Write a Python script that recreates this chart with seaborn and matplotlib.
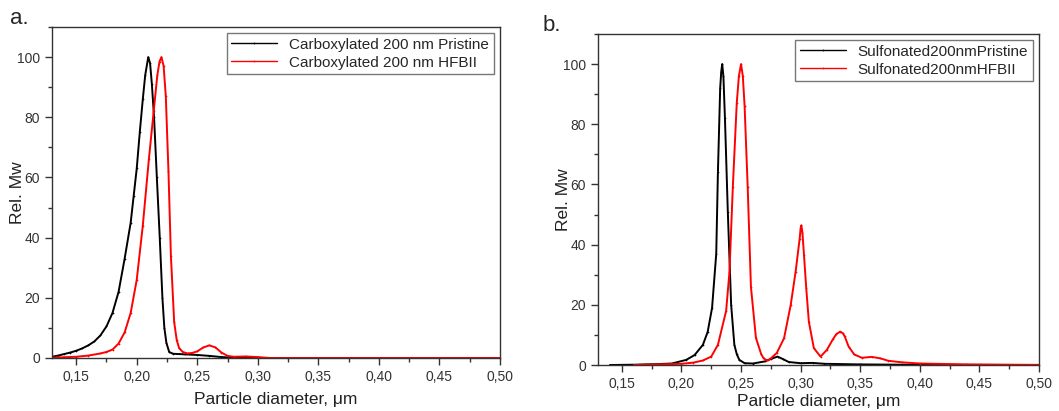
import matplotlib
matplotlib.use("Agg")
import matplotlib.pyplot as plt
from matplotlib.ticker import MultipleLocator, FuncFormatter
import seaborn as sns
import pandas as pd

# ---- data ----
carb_pristine_x = [0.130, 0.135, 0.140, 0.145, 0.150, 0.155, 0.160, 0.165, 0.170, 0.175,
                   0.180, 0.185, 0.190, 0.195, 0.1975, 0.200, 0.2025, 0.205, 0.207, 0.2095,
                   0.211, 0.2125, 0.2143, 0.2166, 0.219, 0.2212, 0.2228, 0.2245, 0.2268, 0.230,
                   0.240, 0.250, 0.260, 0.270, 0.280, 0.300, 0.500]
carb_pristine_y = [0.4, 0.8, 1.3, 1.8, 2.4, 3.2, 4.2, 5.5, 7.5, 10.5,
                   15, 22, 33, 45, 54, 63, 75, 86, 94, 100,
                   98, 91, 80, 60, 40, 20, 10, 5, 2, 1.4,
                   1.2, 1.0, 0.7, 0.3, 0.1, 0.0, 0.0]

carb_hfbii_x = [0.130, 0.150, 0.160, 0.170, 0.175, 0.180, 0.185, 0.190, 0.195, 0.200,
                0.205, 0.210, 0.214, 0.217, 0.2188, 0.2204, 0.2222, 0.224, 0.2262, 0.2282,
                0.2309, 0.233, 0.235, 0.238, 0.242, 0.246, 0.250, 0.255, 0.260, 0.265,
                0.270, 0.275, 0.280, 0.290, 0.300, 0.310, 0.500]
carb_hfbii_y = [0.1, 0.4, 0.8, 1.5, 2.0, 2.8, 4.8, 8.5, 15, 26,
                44, 66, 82, 94, 98.5, 100, 97, 87, 62, 34,
                12, 6, 3.3, 2.0, 1.5, 1.7, 2.2, 3.5, 4.2, 3.5,
                1.8, 0.7, 0.4, 0.5, 0.3, 0.0, 0.0]

sulf_pristine_x = [0.140, 0.160, 0.180, 0.192, 0.204, 0.211, 0.218, 0.222, 0.2257, 0.2292,
                   0.2306, 0.2325, 0.2334, 0.2342, 0.2352, 0.2365, 0.2389, 0.2417, 0.2444, 0.2465,
                   0.2486, 0.253, 0.260, 0.270, 0.275, 0.2806, 0.285, 0.290, 0.300, 0.310,
                   0.320, 0.350, 0.400, 0.500]
sulf_pristine_y = [0.0, 0.1, 0.3, 0.5, 1.7, 3.3, 6.7, 11, 19, 37,
                   64, 92, 97.5, 100, 96, 82, 51, 20, 6.7, 3.5,
                   1.7, 0.6, 0.5, 1.2, 2.0, 2.8, 2.0, 1.0, 0.6, 0.7,
                   0.4, 0.2, 0.05, 0.0]

sulf_hfbii_x = [0.160, 0.180, 0.200, 0.210, 0.218, 0.225, 0.2306, 0.2375, 0.2403, 0.2431,
                0.2464, 0.2482, 0.2500, 0.2515, 0.2530, 0.2556, 0.2583, 0.2625, 0.2670, 0.269,
                0.2708, 0.273, 0.2750, 0.2800, 0.2861, 0.2917, 0.2958, 0.2992, 0.3000, 0.3006,
                0.3015, 0.3028, 0.3047, 0.3069, 0.3111, 0.3167, 0.322, 0.327, 0.330, 0.3333,
                0.3355, 0.337, 0.3403, 0.345, 0.3514, 0.3597, 0.367, 0.3736, 0.3847, 0.400,
                0.440, 0.500]
sulf_hfbii_y = [0.0, 0.2, 0.4, 0.8, 1.5, 2.8, 6.7, 18, 31, 59,
                87, 96, 100, 96, 86, 59, 26, 9, 3.5, 2.2,
                1.7, 1.7, 2.2, 4.0, 8.9, 20, 31, 42, 45.5, 46.4,
                44, 36.7, 25.6, 14.4, 5.6, 2.8, 5, 8.5, 10.3, 11.1,
                10.5, 9.5, 6.1, 3.5, 2.4, 2.7, 2.2, 1.4, 0.9, 0.5,
                0.2, 0.05]

panel_a_labels = ["Carboxylated 200 nm Pristine", "Carboxylated 200 nm HFBII"]
panel_b_labels = ["Sulfonated200nmPristine", "Sulfonated200nmHFBII"]
x_ticks = [0.15, 0.20, 0.25, 0.30, 0.35, 0.40, 0.45, 0.50]
y_ticks = [0, 20, 40, 60, 80, 100]

# ---- style ----
sns.set_style("ticks")
plt.rcParams["font.family"] = ["Liberation Sans", "DejaVu Sans"]
plt.rcParams["axes.edgecolor"] = "#333333"
plt.rcParams["axes.linewidth"] = 1.0

fig = plt.figure(figsize=(10.59, 4.11), dpi=100)
ax_a = fig.add_axes([0.0491, 0.129, 0.423, 0.8053])
ax_b = fig.add_axes([0.5647, 0.1119, 0.4164, 0.8054])


def make_df(xs, ys, label):
    return pd.DataFrame({"x": xs, "y": ys, "series": label})


def draw(ax, black, red, labels):
    df = pd.concat([make_df(black[0], black[1], labels[0]),
                    make_df(red[0], red[1], labels[1])], ignore_index=True)
    sns.lineplot(data=df, x="x", y="y", hue="series", ax=ax,
                 palette={labels[0]: "black", labels[1]: "#ff0000"},
                 linewidth=1.4, marker=".", markersize=2.5, markeredgewidth=0,
                 estimator=None, sort=True)
    ax.set_xlim(0.13, 0.50)
    ax.set_ylim(0, 110)
    ax.set_xticks(x_ticks)
    ax.set_yticks(y_ticks)
    ax.xaxis.set_minor_locator(MultipleLocator(0.025))
    ax.yaxis.set_minor_locator(MultipleLocator(10))
    ax.xaxis.set_major_formatter(FuncFormatter(lambda v, p: f"{v:.2f}".replace(".", ",")))
    ax.tick_params(axis="both", which="major", length=5, width=1, labelsize=10,
                   colors="#333333", direction="out", top=False, right=False)
    ax.tick_params(axis="both", which="minor", length=3, width=1,
                   colors="#333333", direction="out", top=False, right=False)
    for sp in ax.spines.values():
        sp.set_visible(True)
        sp.set_color("#333333")
    ax.set_xlabel("Particle diameter, \u03bcm", fontsize=12.5, color="#222222")
    ax.set_ylabel("Rel. Mw", fontsize=12.5, color="#222222")
    leg = ax.legend(loc="upper right", fontsize=11, frameon=True, fancybox=False,
                    edgecolor="#777777", framealpha=1, handlelength=3.0,
                    borderaxespad=0.4, labelspacing=0.25, borderpad=0.3)
    leg.get_frame().set_linewidth(1.0)
    for h in leg.legend_handles:
        h.set_linewidth(1.0)


draw(ax_a, (carb_pristine_x, carb_pristine_y), (carb_hfbii_x, carb_hfbii_y), panel_a_labels)
draw(ax_b, (sulf_pristine_x, sulf_pristine_y), (sulf_hfbii_x, sulf_hfbii_y), panel_b_labels)
ax_a.yaxis.set_label_coords(-0.060, 0.5)
ax_b.yaxis.set_label_coords(-0.061, 0.5)
ax_a.xaxis.set_label_coords(0.5, -0.104)
ax_b.xaxis.set_label_coords(0.5, -0.088)

fig.text(0.009, 0.955, "a.", fontsize=16, va="center", ha="left")
fig.text(0.512, 0.937, "b.", fontsize=16, va="center", ha="left")

fig.savefig("out.png", dpi=100)
